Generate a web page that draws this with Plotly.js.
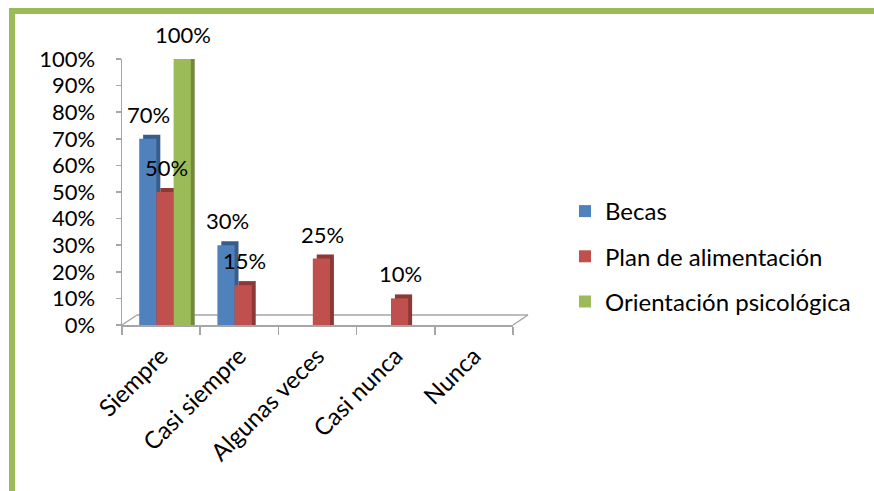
<!DOCTYPE html>
<html>
<head>
<meta charset="utf-8">
<script src="https://cdn.plot.ly/plotly-3.0.1.min.js"></script>
<style>
html,body{margin:0;padding:0;background:#fff;}
#wrap{position:relative;width:874px;height:491px;overflow:hidden;}
#chart{position:absolute;left:0;top:0;width:874px;height:491px;}
.bt{position:absolute;left:9px;top:8px;width:865px;height:6px;background:#9BBB59;}
.bl{position:absolute;left:9px;top:8px;width:6px;height:483px;background:#9BBB59;}
</style>
</head>
<body>
<div id="wrap">
<div id="chart"></div>
<div class="bt"></div>
<div class="bl"></div>
</div>
<script>
const categories = ["Siempre", "Casi siempre", "Algunas veces", "Casi nunca", "Nunca"];
const seriesNames = ["Becas", "Plan de alimentación", "Orientación psicológica"];
const becas = [0.70, 0.30, 0, 0, 0];
const plan = [0.50, 0.15, 0.25, 0.10, 0];
const orientacion = [1.00, 0, 0, 0, 0];
const colors = ["#4F81BD", "#C0504D", "#9BBB59"];
const sideColors = ["#385D8A", "#8C3836", "#71893F"];
const yTickVals = [0, 0.1, 0.2, 0.3, 0.4, 0.5, 0.6, 0.7, 0.8, 0.9, 1.0];

const FONT = "Lato, 'Open Sans', sans-serif";
const allSeries = [becas, plan, orientacion];
const BAR_W = 0.22;      // bar width in category units
const FIRST_OFF = -0.28; // left edge of first bar relative to category centre
const DEPTH_X = 0.05;    // pseudo-3D depth (category units)
const DEPTH_Y = 0.015;   // pseudo-3D depth (value units)

// depth faces (drawn first, behind the front faces)
const sideTraces = allSeries.map((vals, i) => ({
  type: "bar",
  name: seriesNames[i] + " (lado)",
  x: categories,
  y: vals,
  base: 0,
  width: BAR_W,
  offset: FIRST_OFF + i * BAR_W + DEPTH_X,
  marker: {color: sideColors[i]},
  showlegend: false,
  cliponaxis: false,
  hoverinfo: "skip"
}));
// shift the depth faces up by DEPTH_Y using a transformed copy of y for the top edge
sideTraces.forEach((t, i) => { t.y = allSeries[i].map(v => v > 0 ? v + DEPTH_Y : 0); });

const frontTraces = allSeries.map((vals, i) => ({
  type: "bar",
  name: seriesNames[i],
  x: categories,
  y: vals,
  width: BAR_W,
  offset: FIRST_OFF + i * BAR_W,
  legendgroup: "g" + i,
  marker: {color: colors[i]},
  cliponaxis: false,
  hoverinfo: "skip"
}));

const L = 122, R = 513, T = 59, B = 325, W = 874, H = 491;
const plotW = R - L;
const catPx = plotW / categories.length;

// data labels, anchored at each bar's value through the axes
const annotations = [];
allSeries.forEach((vals, i) => {
  vals.forEach((v, j) => {
    if (v > 0) {
      annotations.push({
        x: categories[j], y: v, xref: "x", yref: "y",
        text: Math.round(v * 100) + "%",
        showarrow: false, yanchor: "bottom", xanchor: "center",
        xshift: (FIRST_OFF + (i + 0.5) * BAR_W) * catPx + 1,
        yshift: 9,
        font: {family: FONT, size: 22, color: "#000"}
      });
    }
  });
});

function px(x){ return (x - L) / (R - L); }
function py(y){ return (B - y) / (B - T); }
const grey = {color: "#A6A6A6", width: 1.5};
const shapes = [
  {type: "line", xref: "paper", yref: "paper", layer: "below", x0: px(122), y0: py(325), x1: px(137), y1: py(315), line: grey},
  {type: "line", xref: "paper", yref: "paper", layer: "below", x0: px(137), y0: py(315), x1: px(528), y1: py(315), line: grey},
  {type: "line", xref: "paper", yref: "paper", layer: "below", x0: px(513), y0: py(325), x1: px(528), y1: py(315), line: grey}
];

const layout = {
  width: W, height: H,
  margin: {l: L, r: W - R, t: T, b: H - B, pad: 0},
  paper_bgcolor: "rgba(0,0,0,0)",
  plot_bgcolor: "rgba(0,0,0,0)",
  font: {family: FONT, size: 22, color: "#000"},
  barmode: "overlay",
  showlegend: true,
  legend: {
    x: px(565), y: py(189), xanchor: "left", yanchor: "top",
    font: {family: FONT, size: 24, color: "#000"},
    traceorder: "grouped", tracegroupgap: 11,
    bgcolor: "rgba(0,0,0,0)"
  },
  xaxis: {
    type: "category",
    range: [-0.5, 4.5],
    showline: true, linecolor: "#A6A6A6", linewidth: 1.5,
    ticks: "outside", tickson: "boundaries", ticklen: 8, tickcolor: "#A6A6A6", tickwidth: 1.5,
    tickangle: -45,
    ticklabelstandoff: 6,
    tickfont: {family: FONT, size: 24, color: "#000"},
    showgrid: false, zeroline: false, fixedrange: true
  },
  yaxis: {
    range: [0, 1],
    tickvals: yTickVals,
    tickformat: ".0%",
    showline: true, linecolor: "#A6A6A6", linewidth: 1.5,
    ticks: "outside", ticklen: 5, tickcolor: "#A6A6A6", tickwidth: 1.5,
    ticklabelstandoff: 16,
    tickfont: {family: FONT, size: 22, color: "#000"},
    showgrid: false, zeroline: false, fixedrange: true
  },
  shapes: shapes,
  annotations: annotations
};

Plotly.newPlot("chart", sideTraces.concat(frontTraces), layout, {displayModeBar: false, staticPlot: true});
</script>
</body>
</html>
